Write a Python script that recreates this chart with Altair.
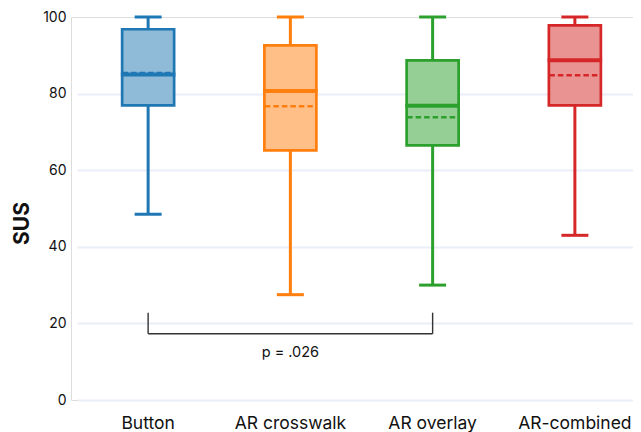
import altair as alt
import pandas as pd

# ---- data ----
groups = ["Button", "AR crosswalk", "AR overlay", "AR-combined"]
lows = [48.5, 27.5, 30.0, 43.0]
q1s = [76.9, 65.2, 66.5, 76.9]
medians = [85.0, 80.7, 76.8, 88.7]
q3s = [96.8, 92.6, 88.7, 97.8]
highs = [100.0, 100.0, 100.0, 100.0]
means = [85.4, 76.7, 73.8, 84.8]

line_colors = ["#1f77b4", "#ff7f0e", "#2ca02c", "#d62728"]
fill_colors = ["#8fbbd9", "#ffbf86", "#95cf95", "#ea9393"]

y_ticks = [0, 20, 40, 60, 80, 100]

bracket_groups = ["Button", "AR overlay"]
bracket_bottom = 17.3
bracket_top = 22.8
p_label = "p = .026"
p_label_group = "AR crosswalk"
p_label_y = 12.3

FONT = "Inter"
TEXT = "#111111"

df = pd.DataFrame({
    "group": groups, "low": lows, "q1": q1s, "median": medians,
    "q3": q3s, "high": highs, "mean": means,
})

line_scale = alt.Scale(domain=groups, range=line_colors)
fill_scale = alt.Scale(domain=groups, range=fill_colors)

x_enc = alt.X(
    "group:N", sort=groups,
    scale=alt.Scale(domain=groups, range=[6, 575], paddingInner=0, paddingOuter=0),
    axis=alt.Axis(title=None, labelAngle=0, labelFont=FONT, labelFontSize=17.5,
                  labelColor=TEXT, ticks=False, domain=False, labelPadding=14,
                  grid=False),
)
y_scale = alt.Scale(domain=[0, 100], nice=False, zero=True)
y_axis = alt.Axis(
    values=y_ticks, title="SUS", titleFont=FONT, titleFontSize=21,
    titleFontWeight="bold", titleColor="#111111", titleAngle=270,
    titleX=-49, titleY=206, titleAlign="center", titleBaseline="middle",
    labelFont=FONT, labelFontSize=14, labelColor=TEXT, labelPadding=5,
    ticks=False, domain=False, grid=True, gridWidth=2,
    gridColor=alt.condition("datum.value === 100", alt.value("transparent"), alt.value("#E9EEF7")),
)
col = alt.Color("group:N", scale=line_scale, legend=None)

base = alt.Chart(df)

whisk = base.mark_rule(strokeWidth=3).encode(
    x=x_enc, y=alt.Y("low:Q", scale=y_scale, axis=y_axis), y2="high:Q", color=col)
cap_low = base.mark_tick(size=27, thickness=3, opacity=1).encode(
    x=x_enc, y="low:Q", color=col)
cap_high = base.mark_tick(size=27, thickness=3, opacity=1).encode(
    x=x_enc, y="high:Q", color=col)
box = base.mark_bar(size=52, strokeWidth=2.7, opacity=1).encode(
    x=x_enc, y="q1:Q", y2="q3:Q",
    fill=alt.Fill("group:N", scale=fill_scale, legend=None),
    stroke=alt.Stroke("group:N", scale=line_scale, legend=None))
mean_line = base.mark_rule(strokeWidth=2.5, strokeDash=[5.5, 3], xOffset=-25.5, x2Offset=25.5).encode(
    x=x_enc, x2="group:N", y="mean:Q", color=col)
median_line = base.mark_tick(size=54.5, thickness=4, opacity=1).encode(
    x=x_enc, y="median:Q", color=col)

bdf = pd.DataFrame({"group": bracket_groups, "b": [bracket_bottom] * 2, "t": [bracket_top] * 2})
bracket_v = alt.Chart(bdf).mark_rule(color="#333333", strokeWidth=1.4).encode(
    x=x_enc, y="b:Q", y2="t:Q")
hdf = pd.DataFrame({"group": [bracket_groups[0]], "g2": [bracket_groups[1]], "b": [bracket_bottom]})
bracket_h = alt.Chart(hdf).mark_rule(color="#333333", strokeWidth=1.4).encode(
    x=x_enc, x2="g2:N", y="b:Q")
tdf = pd.DataFrame({"group": [p_label_group], "y": [p_label_y], "label": [p_label]})
ptext = alt.Chart(tdf).mark_text(font=FONT, fontSize=14.5, color=TEXT, baseline="middle").encode(
    x=x_enc, y="y:Q", text="label:N")

chart = alt.layer(
    whisk, cap_low, cap_high, box, mean_line, median_line, bracket_v, bracket_h, ptext
).properties(
    width=562, height=383,
    autosize=alt.AutoSizeParams(type="none"),
    padding={"left": 63, "top": 9, "right": 0, "bottom": 32},
).configure_view(stroke=None).configure(background="white")

chart.save("out.html", embed_options={"renderer": "svg", "actions": False})
